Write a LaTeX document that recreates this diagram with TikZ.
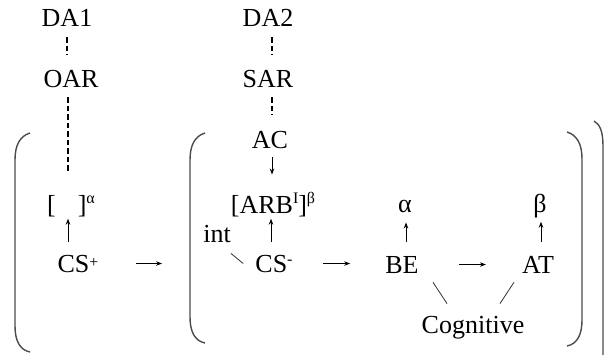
\documentclass[tikz,border=0pt]{standalone}
\usepackage{fontspec}
\setmainfont{Liberation Serif}
\usetikzlibrary{arrows.meta,calc}
\newcommand\spx[2][9pt]{\raisebox{#1}{\fontsize{16}{16}\selectfont #2}}
\begin{document}
\begin{tikzpicture}[x=1pt,y=-1pt,
  txt/.style={font=\rmfamily\fontsize{26}{30}\selectfont, inner sep=0pt, anchor=base},
  arr/.style={-{Stealth[length=6pt,width=4.5pt]}, line width=0.9pt},
  dsh/.style={dash pattern=on 5.5pt off 3pt, line width=1.1pt},
  brk/.style={line width=1.4pt, draw=black!70},
  ln/.style={line width=0.8pt, draw=black!80}]
\useasboundingbox (0,0) rectangle (604,354);
% nodes
\node[txt] (da1) at (67,26) {DA1};
\node[txt] (oar) at (71,87) {OAR};
\node[txt] (da2) at (268,26) {DA2};
\node[txt] (sar) at (268,87) {SAR};
\node[txt] (ac) at (270,148) {AC};
\node[txt] (b1) at (71,213) {[\hspace{22pt}]\spx[10pt]{α}};
\node[txt] (b2) at (273,213) {[ARB\spx[10pt]{I}]\spx[10pt]{β}};
\node[txt] (cs1) at (78,272) {CS\spx[5pt]{+}};
\node[txt] (cs2) at (274,272) {CS\spx[8pt]{-}};
\node[txt] (int) at (217,242) {int};
\node[txt] (be) at (402,273) {BE};
\node[txt] (at) at (538,273) {AT};
\node[txt] (al) at (405,212) {α};
\node[txt] (bt) at (540,212) {β};
\node[txt] (cog) at (473,333) {Cognitive};
\coordinate (in1) at (162,263);
% dashed connectors
\draw[dsh, shorten <=11pt, shorten >=15pt] (da1.south) -- (da1.south |- oar.north);
\draw[dsh, shorten <=10pt, shorten >=22pt] ([xshift=-3pt]oar.south) -- ([xshift=-3pt]oar.south |- b1.north);
\draw[dsh, shorten <=11pt, shorten >=15pt] ([xshift=4pt]da2.south) -- ([xshift=4pt]da2.south |- sar.north);
\draw[dsh, shorten <=10pt, shorten >=16pt] ([xshift=4pt]sar.south) -- ([xshift=4pt]sar.south |- ac.north);
% vertical arrows
\draw[arr, shorten <=9pt, shorten >=17pt] ([xshift=2pt]ac.south) -- ([xshift=2pt]ac.south |- b2.north);
\draw[arr, shorten <=13pt, shorten >=2pt] ([xshift=-10pt]cs1.north) -- ([xshift=-10pt]cs1.north |- b1.south);
\draw[arr, shorten <=13pt, shorten >=2pt] ([xshift=-3pt]cs2.north) -- ([xshift=-3pt]cs2.north |- b2.south);
\draw[arr, shorten <=14pt, shorten >=10pt] ([xshift=4pt]be.north) -- ([xshift=4pt]be.north |- al.south);
\draw[arr, shorten <=14pt, shorten >=4pt] ([xshift=3pt]at.north) -- ([xshift=3pt]at.north |- bt.south);
% horizontal arrows
\draw[arr, shorten <=37pt] (cs1.east) -- (cs1.east -| in1);
\draw[arr, shorten <=30pt, shorten >=35pt] (cs2.east) -- (cs2.east -| be.west);
\draw[arr, shorten <=40pt, shorten >=36pt] (be.east) -- (be.east -| at.west);
% plain lines
\draw[ln] ([yshift=-11pt]int.south east) -- ([xshift=-12pt]cs2.west);
\draw[ln] ([xshift=31pt,yshift=-9pt]be.south) -- ([xshift=-26pt,yshift=12pt]cog.north);
\draw[ln] ([xshift=-24pt,yshift=-9pt]at.south) -- ([xshift=27pt,yshift=12pt]cog.north);
% brackets
\draw[brk] (30,133) .. controls (20,136) and (15,145) .. (15,160) -- (15,326) .. controls (15,341) and (20,350) .. (30,352);
\draw[brk] (205,133) .. controls (195,136) and (190,145) .. (190,160) -- (190,317) .. controls (190,332) and (195,341) .. (205,343);
\draw[brk] (567,132) .. controls (577,135) and (582,144) .. (582,159) -- (582,320) .. controls (582,335) and (577,344) .. (567,346);
\draw[brk] (594,121) .. controls (600,124) and (603,132) .. (603,146) -- (603,360);
\end{tikzpicture}
\end{document}
